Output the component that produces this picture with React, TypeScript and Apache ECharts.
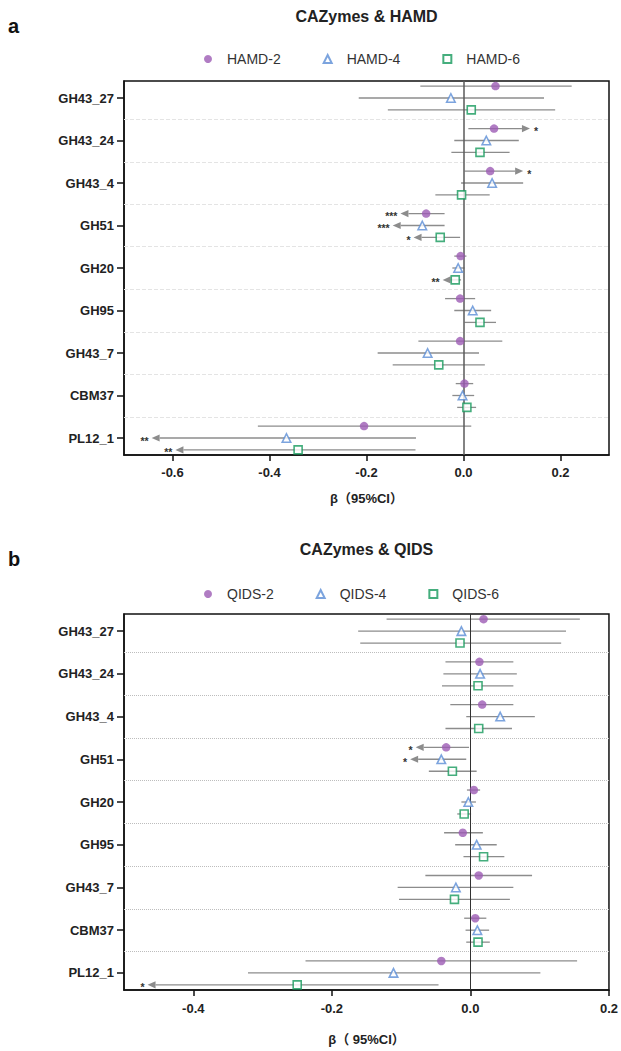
import React, { useEffect, useRef } from "react";
import * as echarts from "echarts";

const categories = ["GH43_27", "GH43_24", "GH43_4", "GH51", "GH20", "GH95", "GH43_7", "CBM37", "PL12_1"];

const hamdNames = ["HAMD-2", "HAMD-4", "HAMD-6"];
const hamd2Beta = [0.066, 0.063, 0.055, -0.077, -0.006, -0.007, -0.007, 0.002, -0.205];
const hamd2Low = [-0.089, 0.01, 0.002, -0.13, -0.019, -0.038, -0.093, -0.016, -0.424];
const hamd2High = [0.223, 0.137, 0.123, -0.039, 0.006, 0.024, 0.08, 0.02, 0.016];
const hamd2Sig = ["", "*", "*", "***", "", "", "", "", ""];

const hamd4Beta = [-0.026, 0.047, 0.059, -0.085, -0.011, 0.019, -0.074, -0.002, -0.365];
const hamd4Low = [-0.216, -0.019, -0.005, -0.146, -0.023, -0.019, -0.177, -0.023, -0.643];
const hamd4High = [0.166, 0.114, 0.123, -0.039, 0.002, 0.057, 0.032, 0.022, -0.098];
const hamd4Sig = ["", "", "", "***", "", "", "", "", "**"];

const hamd6Beta = [0.016, 0.034, -0.004, -0.048, -0.017, 0.034, -0.051, 0.007, -0.341];
const hamd6Low = [-0.156, -0.025, -0.058, -0.103, -0.043, 0.002, -0.146, -0.013, -0.594];
const hamd6High = [0.189, 0.095, 0.054, -0.007, -0.005, 0.067, 0.044, 0.026, -0.099];
const hamd6Sig = ["", "", "", "*", "**", "", "", "", "**"];

const qidsNames = ["QIDS-2", "QIDS-4", "QIDS-6"];
const qids2Beta = [0.019, 0.013, 0.017, -0.035, 0.005, -0.011, 0.012, 0.007, -0.042];
const qids2Low = [-0.121, -0.036, -0.029, -0.079, -0.005, -0.038, -0.065, -0.009, -0.238];
const qids2High = [0.158, 0.062, 0.062, -0.002, 0.014, 0.018, 0.089, 0.023, 0.154];
const qids2Sig = ["", "", "", "*", "", "", "", "", ""];

const qids4Beta = [-0.013, 0.014, 0.043, -0.042, -0.003, 0.009, -0.021, 0.01, -0.111];
const qids4Low = [-0.162, -0.039, -0.006, -0.087, -0.013, -0.022, -0.105, -0.007, -0.321];
const qids4High = [0.138, 0.067, 0.093, -0.006, 0.008, 0.038, 0.062, 0.027, 0.101];
const qids4Sig = ["", "", "", "*", "", "", "", "", ""];

const qids6Beta = [-0.015, 0.011, 0.012, -0.026, -0.009, 0.019, -0.023, 0.011, -0.25];
const qids6Low = [-0.159, -0.041, -0.036, -0.06, -0.019, -0.01, -0.103, -0.006, -0.466];
const qids6High = [0.131, 0.062, 0.06, 0.009, 0.001, 0.049, 0.057, 0.028, -0.046];
const qids6Sig = ["", "", "", "", "", "", "", "", "*"];

const topTicks = [-0.6, -0.4, -0.2, 0, 0.2];
const bottomTicks = [-0.4, -0.2, 0, 0.2];

const PURPLE = "#9c5bb4";
const BLUE = "#5b8dd6";
const GREEN = "#169a5c";
const BAR = "#8c8c8c";
const FONT = "Arial, 'Liberation Sans', 'Noto Sans CJK SC', sans-serif";
const ROW_OFF = 0.28;

const catIdx = categories.map((_, i) => i);

function renderBar(params: any, api: any) {
  const lo = api.value(0);
  const hi = api.value(1);
  const y = api.value(2);
  const dir = api.value(3);
  const nStars = api.value(4);
  const pLo = api.coord([lo, y]);
  const pHi = api.coord([hi, y]);
  const py = pLo[1];
  const ah = 8;
  const aw = 3.6;
  let x1 = pLo[0];
  let x2 = pHi[0];
  if (dir < 0) x1 = pLo[0] + ah;
  if (dir > 0) x2 = pHi[0] - ah;
  const children: any[] = [
    { type: "line", shape: { x1, y1: py, x2, y2: py }, style: { stroke: BAR, lineWidth: 1.3 } },
  ];
  const stars = "*".repeat(nStars || 0);
  const starStyle = { font: "bold 10.5px " + FONT, fill: "#333", verticalAlign: "middle" };
  if (dir < 0) {
    const tx = pLo[0];
    children.push({
      type: "polygon",
      shape: { points: [[tx, py], [tx + ah, py - aw], [tx + ah, py + aw]] },
      style: { fill: BAR },
    });
    children.push({
      type: "text",
      style: { ...starStyle, text: stars, x: tx - 3, y: py + 2.5, align: "right" },
    });
  } else if (dir > 0) {
    const tx = pHi[0];
    children.push({
      type: "polygon",
      shape: { points: [[tx, py], [tx - ah, py - aw], [tx - ah, py + aw]] },
      style: { fill: BAR },
    });
    children.push({
      type: "text",
      style: { ...starStyle, text: stars, x: tx + 4, y: py + 2.5, align: "left" },
    });
  }
  return { type: "group", children };
}

function barData(beta: number[], low: number[], high: number[], sig: string[], k: number) {
  return beta.map((b, i) => {
    const n = sig[i].length;
    const dir = n > 0 ? (b < 0 ? -1 : 1) : 0;
    return [low[i], high[i], i + (k - 1) * ROW_OFF, dir, n];
  });
}

function pointData(beta: number[], k: number) {
  return beta.map((b, i) => [b, i + (k - 1) * ROW_OFF]);
}

const symbols = [
  { symbol: "circle", size: 8.5, itemStyle: { color: PURPLE } },
  { symbol: "triangle", size: 8.5, itemStyle: { color: "#fff", borderColor: BLUE, borderWidth: 1.6 } },
  { symbol: "rect", size: 8, itemStyle: { color: "#fff", borderColor: GREEN, borderWidth: 1.6 } },
];

function panelSeries(
  axis: number,
  names: string[],
  sets: [number[], number[], number[], string[]][],
  zeroStyle: any,
  sepStyle: any
) {
  const out: any[] = [];
  sets.forEach((s, k) => {
    out.push({
      type: "custom",
      name: "bar" + axis + k,
      xAxisIndex: axis,
      yAxisIndex: axis,
      renderItem: renderBar,
      encode: { x: [0, 1], y: 2 },
      data: barData(s[0], s[1], s[2], s[3], k),
      z: 2,
      silent: true,
    });
  });
  sets.forEach((s, k) => {
    const sym = symbols[k];
    const series: any = {
      type: "scatter",
      name: names[k],
      xAxisIndex: axis,
      yAxisIndex: axis,
      symbol: sym.symbol,
      symbolSize: sym.size,
      itemStyle: sym.itemStyle,
      data: pointData(s[0], k),
      z: 4,
      silent: true,
    };
    if (k === 0) {
      series.markLine = {
        silent: true,
        symbol: "none",
        label: { show: false },
        lineStyle: zeroStyle,
        data: [{ xAxis: 0 }],
        z: 3,
      };
    }
    if (k === 1) {
      series.markLine = {
        silent: true,
        symbol: "none",
        label: { show: false },
        lineStyle: sepStyle,
        data: catIdx.slice(0, -1).map((i) => ({ yAxis: i + 0.5 })),
        z: 1,
      };
    }
    out.push(series);
  });
  return out;
}

function xAxisDef(grid: number, min: number, max: number, ticks: number[], name: string, nameGap: number, margin: number) {
  return {
    type: "value",
    gridIndex: grid,
    min,
    max,
    name,
    nameLocation: "middle",
    nameGap,
    nameTextStyle: { fontFamily: FONT, fontWeight: "bold", fontSize: 13, color: "#222" },
    axisLine: { show: true, onZero: false, lineStyle: { color: "#111", width: 1.5 } },
    axisTick: { show: true, customValues: ticks, length: 6, lineStyle: { color: "#111", width: 1.5 } },
    axisLabel: {
      customValues: ticks,
      margin,
      fontFamily: FONT,
      fontWeight: "bold",
      fontSize: 13,
      color: "#222",
      formatter: (v: number) => v.toFixed(1),
    },
    splitLine: { show: false },
  };
}

function yAxisDef(grid: number) {
  return {
    type: "value",
    gridIndex: grid,
    inverse: true,
    min: -0.4,
    max: 8.4,
    axisLine: { show: true, onZero: false, lineStyle: { color: "#111", width: 1.5 } },
    axisTick: { show: true, customValues: catIdx, length: 7, lineStyle: { color: "#111", width: 1.5 } },
    axisLabel: {
      customValues: catIdx,
      margin: 10,
      fontFamily: FONT,
      fontWeight: "bold",
      fontSize: 13,
      color: "#222",
      formatter: (v: number) => categories[Math.round(v)] || "",
    },
    splitLine: { show: false },
  };
}

function legendDef(names: string[], top: number) {
  return {
    data: names,
    left: 199,
    top,
    itemWidth: 8,
    itemHeight: 8,
    itemGap: 42,
    selectedMode: false,
    textStyle: { fontFamily: FONT, fontSize: 14, color: "#333", padding: [0, 0, 0, 10] },
  };
}

export default function App() {
  const ref = useRef<HTMLDivElement>(null);
  useEffect(() => {
    if (!ref.current) return;
    const chart = echarts.init(ref.current, null, { renderer: "svg" });
    const topSets: [number[], number[], number[], string[]][] = [
      [hamd2Beta, hamd2Low, hamd2High, hamd2Sig],
      [hamd4Beta, hamd4Low, hamd4High, hamd4Sig],
      [hamd6Beta, hamd6Low, hamd6High, hamd6Sig],
    ];
    const bottomSets: [number[], number[], number[], string[]][] = [
      [qids2Beta, qids2Low, qids2High, qids2Sig],
      [qids4Beta, qids4Low, qids4High, qids4Sig],
      [qids6Beta, qids6Low, qids6High, qids6Sig],
    ];
    chart.setOption({
      animation: false,
      backgroundColor: "#fff",
      textStyle: { fontFamily: FONT },
      graphic: [
        { type: "text", x: 8, y: 26, style: { text: "a", font: "bold 20px " + FONT, fill: "#111", align: "left", verticalAlign: "middle" } },
        { type: "text", x: 366.5, y: 16.5, style: { text: "CAZymes & HAMD", font: "bold 16px " + FONT, fill: "#222", align: "center", verticalAlign: "middle" } },
        { type: "text", x: 8, y: 559, style: { text: "b", font: "bold 20px " + FONT, fill: "#111", align: "left", verticalAlign: "middle" } },
        { type: "text", x: 366.5, y: 549.7, style: { text: "CAZymes & QIDS", font: "bold 16px " + FONT, fill: "#222", align: "center", verticalAlign: "middle" } },
      ],
      legend: [legendDef(hamdNames, 47), legendDef(qidsNames, 582)],
      grid: [
        { left: 124, top: 81, width: 485, height: 374, show: true, borderColor: "#111", borderWidth: 1.5, backgroundColor: "transparent" },
        { left: 124, top: 614, width: 485, height: 376, show: true, borderColor: "#111", borderWidth: 1.5, backgroundColor: "transparent" },
      ],
      xAxis: [
        xAxisDef(0, -0.7, 0.3, topTicks, "β（95%CI）", 37, 11),
        xAxisDef(1, -0.5, 0.2, bottomTicks, "β（ 95%CI）", 43, 12),
      ],
      yAxis: [yAxisDef(0), yAxisDef(1)],
      series: [
        ...panelSeries(0, hamdNames, topSets, { color: "#5a5a5a", width: 1.5, type: "solid" }, { color: "#e4e4e4", width: 1, type: "dashed" }),
        ...panelSeries(1, qidsNames, bottomSets, { color: "#333", width: 1, type: "solid" }, { color: "#bdbdbd", width: 1, type: "dotted" }),
      ],
    });
    return () => chart.dispose();
  }, []);
  return <div ref={ref} style={{ position: "fixed", left: 0, top: 0, width: 621, height: 1051 }} />;
}
